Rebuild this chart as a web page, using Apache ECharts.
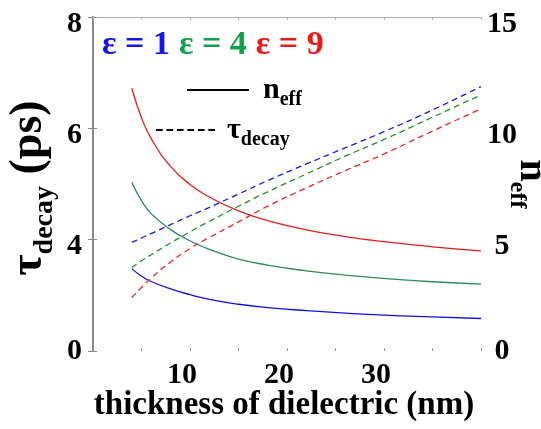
<!DOCTYPE html>
<html>
<head>
<meta charset="utf-8">
<script src="https://cdn.jsdelivr.net/npm/echarts@6/dist/echarts.min.js"></script>
<style>
  html, body { margin: 0; padding: 0; background: #fff; }
  #chart { width: 541px; height: 429px; }
</style>
</head>
<body>
<div id="chart"></div>
<script>
// thickness of dielectric (nm)
const thickness = [4, 5, 6, 8, 10, 12, 15, 18, 22, 26, 30, 35, 40];
// n_eff (right axis), solid lines
const neffEps1 = [3.70, 3.36, 3.12, 2.79, 2.53, 2.32, 2.10, 1.95, 1.81, 1.70, 1.61, 1.53, 1.46];
const neffEps4 = [7.58, 6.75, 6.17, 5.45, 4.95, 4.56, 4.13, 3.86, 3.60, 3.41, 3.26, 3.11, 3.00];
const neffEps9 = [11.80, 10.48, 9.54, 8.29, 7.48, 6.91, 6.29, 5.86, 5.44, 5.14, 4.91, 4.68, 4.50];
// tau_decay (left axis), dashed lines
const tauEps1 = [3.95, 4.03, 4.11, 4.27, 4.43, 4.58, 4.82, 5.06, 5.36, 5.65, 5.94, 6.33, 6.75];
const tauEps4 = [3.50, 3.62, 3.73, 3.94, 4.14, 4.33, 4.60, 4.86, 5.18, 5.50, 5.80, 6.20, 6.60];
const tauEps9 = [2.96, 3.14, 3.31, 3.60, 3.84, 4.04, 4.32, 4.60, 4.93, 5.24, 5.54, 5.95, 6.35];

const epsNames = ['ε = 1', 'ε = 4', 'ε = 9'];
const xTickLabels = [10, 20, 30];
const tauTicks = [2, 4, 6, 8];
const tauTickLabels = ['0', '4', '6', '8'];
const neffTickLabels = [0, 5, 10, 15];

const font = '"Liberation Serif", "Times New Roman", serif';
const textColors = ['#1414ee', '#12a04c', '#ee1818'];
const solidColors = ['#1212e6', '#2f8a5c', '#e81c1c'];
const dashColors = ['#1a1ae8', '#23902c', '#ea2424'];

const zip = (xs, ys) => xs.map((x, i) => [x, ys[i]]);
const neffData = [neffEps1, neffEps4, neffEps9];
const tauData = [tauEps1, tauEps4, tauEps9];

let series = [];
epsNames.forEach((name, i) => {
    series.push({
        name: name,
        type: 'line',
        yAxisIndex: 1,
        data: zip(thickness, neffData[i]),
        smooth: true,
        symbol: 'none',
        lineStyle: { color: solidColors[i], width: 1.3 },
        itemStyle: { color: solidColors[i] }
    });
    series.push({
        name: name,
        type: 'line',
        yAxisIndex: 0,
        data: zip(thickness, tauData[i]),
        smooth: true,
        symbol: 'none',
        lineStyle: { color: dashColors[i], width: 1.3, type: [6, 4] },
        itemStyle: { color: dashColors[i] }
    });
});
// black samples for the line-style legend
series.push({
    name: 'n_eff', type: 'line', yAxisIndex: 1, data: [], symbol: 'none',
    lineStyle: { color: '#000', width: 2 }, itemStyle: { color: '#000' }
});
series.push({
    name: 'τ_decay', type: 'line', yAxisIndex: 0, data: [], symbol: 'none',
    lineStyle: { color: '#000', width: 2, type: [8, 4] }, itemStyle: { color: '#000' }
});

const solidIcon = 'path://M0 0H62V2H0Z';
const dashIcon = 'path://M0 0H14V4H0Z M22 0H36V4H22Z M44 0H58V4H44Z M66 0H80V4H66Z M88 0H102V4H88Z M110 0H124V4H110Z';

const subRich = (main, sub, pad) => ({
    m: { fontFamily: font, fontWeight: 'bold', fontSize: main, lineHeight: main * 1.3, color: '#000', padding: [0, 0, 0, pad] },
    s: { fontFamily: font, fontWeight: 'bold', fontSize: sub, lineHeight: 10, verticalAlign: 'bottom', color: '#000' }
});
// tick labels sit a little below their ticks (empty spacer line above), except the 0s
const tickRich = {
    sp: { fontSize: 2, lineHeight: 14 },
    d: { fontFamily: font, fontWeight: 'bold', fontSize: 30, color: '#000', lineHeight: 34 }
};
const tickText = t => t === '0' ? '{d|0}' : '{sp| }\n{d|' + t + '}';

const myChart = echarts.init(document.getElementById('chart'));
const option = {
    animation: false,
    backgroundColor: '#fff',
    grid: { left: 93, right: 60, top: 17, bottom: 78, outerBoundsMode: 'none', containLabel: false },
    legend: [
        {
            data: epsNames.map((n, i) => ({ name: n, icon: 'none', textStyle: { color: textColors[i] } })),
            left: 97, top: 28, padding: 0,
            itemWidth: 0, itemHeight: 32, itemGap: 4,
            selectedMode: false,
            textStyle: { fontFamily: font, fontWeight: 'bold', fontSize: 34 }
        },
        {
            data: [{ name: 'n_eff', icon: solidIcon }],
            left: 187, top: 75, padding: 0,
            itemWidth: 62, itemHeight: 2,
            selectedMode: false,
            formatter: () => '{m|n}{s|eff}',
            textStyle: { rich: subRich(30, 20, 9) }
        },
        {
            data: [{ name: 'τ_decay', icon: dashIcon }],
            left: 156, top: 115, padding: 0,
            itemWidth: 59, itemHeight: 2,
            selectedMode: false,
            formatter: () => '{m|τ}{s|decay}',
            textStyle: { rich: subRich(30, 20, 7) }
        }
    ],
    xAxis: [
        {
            type: 'value', min: 0, max: 40, interval: 5,
            position: 'bottom',
            axisLine: { show: false },
            axisTick: { show: true, inside: true, length: 3, lineStyle: { color: '#999' } },
            splitLine: { show: false },
            axisLabel: {
                margin: 9,
                fontFamily: font, fontWeight: 'bold', fontSize: 30, color: '#000',
                padding: [0, 16, 0, 0],
                formatter: v => xTickLabels.includes(v) ? String(v) : ''
            },
            name: 'thickness of dielectric (nm)',
            nameLocation: 'middle',
            nameGap: 38,
            nameMoveOverlap: false,
            nameTextStyle: { fontFamily: font, fontWeight: 'bold', fontSize: 33, color: '#000', padding: [0, 6, 0, 0] }
        },
        {
            type: 'value', min: 0, max: 40, interval: 5,
            position: 'top',
            axisLine: { show: true, lineStyle: { color: '#b0b0b0', width: 1 } },
            axisTick: { show: true, inside: true, length: 3, lineStyle: { color: '#b0b0b0' } },
            axisLabel: { show: false },
            splitLine: { show: false }
        }
    ],
    yAxis: [
        {
            type: 'value', min: 2, max: 8, interval: 2,
            position: 'left',
            axisLine: { show: true, lineStyle: { color: '#888', width: 1 } },
            axisTick: { show: true, inside: true, length: 4, lineStyle: { color: '#888' } },
            splitLine: { show: false },
            axisLabel: {
                margin: 11,
                rich: tickRich,
                formatter: v => tickText(tauTickLabels[tauTicks.indexOf(v)])
            },
            name: '{m|τ}{s|decay}{m| (ps)}',
            nameLocation: 'middle',
            nameRotate: 90,
            nameGap: 34,
            nameMoveOverlap: false,
            nameTextStyle: {
                padding: [0, 8, 0, 0],
                rich: {
                    m: { fontFamily: font, fontWeight: 'bold', fontSize: 46, lineHeight: 60, color: '#000' },
                    s: { fontFamily: font, fontWeight: 'bold', fontSize: 28, lineHeight: 12, verticalAlign: 'bottom', color: '#000' }
                }
            }
        },
        {
            type: 'value', min: 0, max: 15, interval: 5,
            position: 'right',
            axisLine: { show: true, lineStyle: { color: '#8a8a8a', width: 2 } },
            axisTick: { show: true, inside: true, length: 5, lineStyle: { color: '#8a8a8a' } },
            splitLine: { show: false },
            axisLabel: {
                margin: 21, align: 'center',
                rich: tickRich,
                formatter: v => neffTickLabels.includes(v) ? tickText(String(v)) : ''
            },
            name: '{m|n}{s|eff}',
            nameLocation: 'middle',
            nameRotate: -90,
            nameGap: 24,
            nameMoveOverlap: false,
            nameTextStyle: {
                rich: {
                    m: { fontFamily: font, fontWeight: 'bold', fontSize: 40, lineHeight: 52, color: '#000' },
                    s: { fontFamily: font, fontWeight: 'bold', fontSize: 24, lineHeight: 12, verticalAlign: 'bottom', color: '#000' }
                }
            }
        }
    ],
    series: series
};
myChart.setOption(option);
</script>
</body>
</html>
